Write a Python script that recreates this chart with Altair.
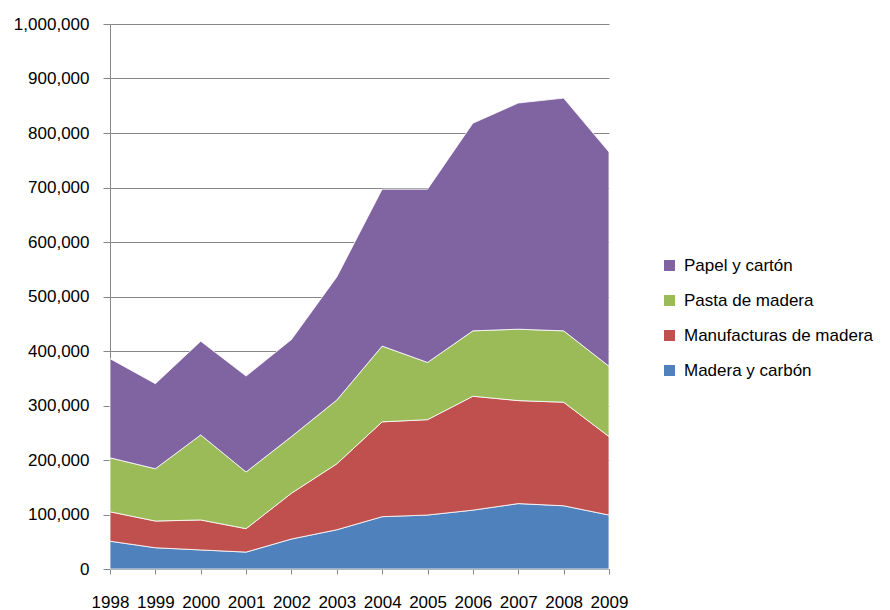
import altair as alt
import pandas as pd

years = [1998, 1999, 2000, 2001, 2002, 2003, 2004, 2005, 2006, 2007, 2008, 2009]
madera_carbon = [51000, 39000, 35000, 31000, 55000, 72000, 96000, 99000, 108000, 120000, 116000, 99000]
manufacturas = [54000, 49000, 55000, 43000, 84000, 121000, 174000, 175000, 209000, 189000, 190000, 144000]
pasta = [99000, 96000, 156000, 104000, 104000, 117000, 139000, 105000, 120000, 131000, 131000, 129000]
papel = [182000, 156000, 172000, 176000, 178000, 226000, 288000, 318000, 381000, 415000, 427000, 393000]

series_names = ["Madera y carbón", "Manufacturas de madera", "Pasta de madera", "Papel y cartón"]
series_values = [madera_carbon, manufacturas, pasta, papel]
legend_order = ["Papel y cartón", "Pasta de madera", "Manufacturas de madera", "Madera y carbón"]
colors = ["#8064A2", "#9BBB59", "#C0504D", "#4F81BD"]
y_ticks = [0, 100000, 200000, 300000, 400000, 500000, 600000, 700000, 800000, 900000, 1000000]

rows = []
for rank, (name, vals) in enumerate(zip(series_names, series_values)):
    for yr, v in zip(years, vals):
        rows.append({"year": yr, "serie": name, "value": v, "rank": rank})
df = pd.DataFrame(rows)

FONT = "Liberation Sans"

chart = alt.Chart(df).mark_area(
    stroke="white", strokeWidth=1, strokeOpacity=0.8, opacity=1
).encode(
    x=alt.X("year:Q",
            scale=alt.Scale(domain=[1998, 2009], nice=False, zero=False),
            axis=alt.Axis(values=years, format="d", title=None, grid=False,
                          tickSize=5, labelPadding=20, labelFontSize=17,
                          labelFont=FONT, labelColor="#000000",
                          domainColor="#868686", tickColor="#868686",
                          labelFlush=False, labelOverlap=False)),
    y=alt.Y("value:Q", stack="zero",
            scale=alt.Scale(domain=[0, 1000000], nice=False),
            axis=alt.Axis(values=y_ticks, format=",d", title=None, grid=True,
                          gridColor="#868686", gridWidth=1,
                          tickSize=7, labelPadding=14, labelFontSize=17,
                          labelFont=FONT, labelColor="#000000",
                          domainColor="#868686", tickColor="#868686")),
    color=alt.Color("serie:N",
                    scale=alt.Scale(domain=legend_order, range=colors),
                    legend=alt.Legend(title=None, orient="none",
                                      legendX=551, legendY=233,
                                      symbolType="square", symbolSize=121,
                                      symbolStrokeWidth=0,
                                      labelFont=FONT, labelFontSize=17,
                                      labelColor="#000000", labelOffset=6,
                                      rowPadding=17, padding=0,
                                      labelLimit=400)),
    order=alt.Order("rank:Q", sort="ascending"),
).properties(
    width=499,
    height=545,
    autosize=alt.AutoSizeParams(type="none"),
    padding={"left": 102, "top": 16, "right": 272, "bottom": 45},
).configure_view(stroke=None)

chart.save("out.html", embed_options={"renderer": "svg", "actions": False})
